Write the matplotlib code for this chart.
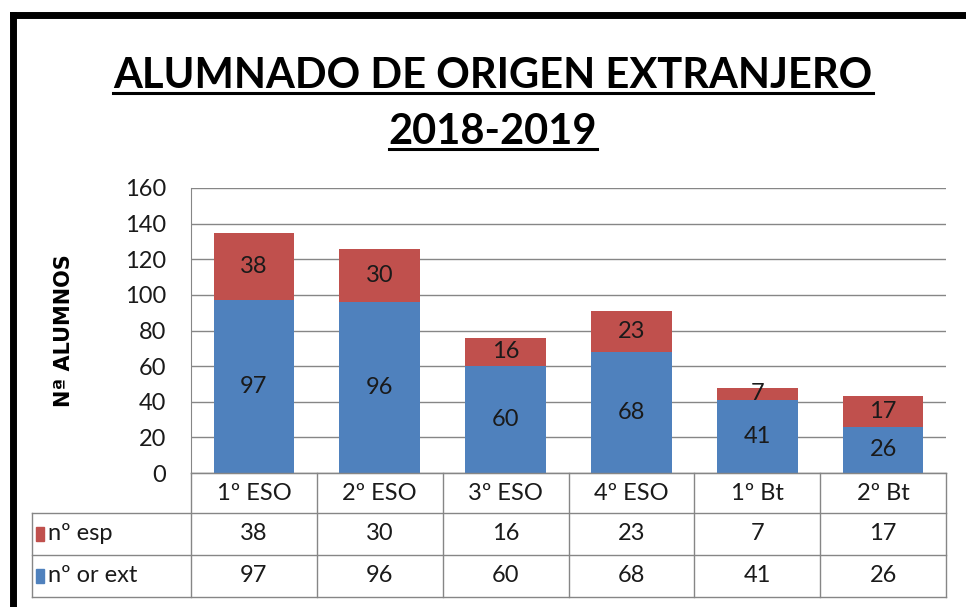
import numpy as np
import matplotlib.pyplot as plt
from matplotlib.lines import Line2D
from matplotlib.patches import Rectangle

categories = ['1º ESO', '2º ESO', '3º ESO', '4º ESO', '1º Bt', '2º Bt']
or_ext = [97, 96, 60, 68, 41, 26]
esp = [38, 30, 16, 23, 7, 17]
series_names = ['nº esp', 'nº or ext']

BLUE = '#4F81BD'
RED = '#C0504D'
GRID = '#868686'
TXT = '#1a1a1a'
W, H = 966, 607

plt.rcParams['font.family'] = ['Lato', 'DejaVu Sans']

fig = plt.figure(figsize=(W / 100, H / 100), dpi=100)


def fx(px):
    return px / W


def fy(py):
    return 1 - py / H


# plot area in pixels
L, R, T, B = 191, 946, 188, 473
ax = fig.add_axes([fx(L), fy(B), fx(R - L), fy(T) - fy(B)])

x = np.arange(len(categories))
ax.bar(x, or_ext, width=0.64, color=BLUE, zorder=3)
ax.bar(x, esp, width=0.64, bottom=or_ext, color=RED, zorder=3)
for i in range(len(categories)):
    ax.text(x[i], or_ext[i] / 2, str(or_ext[i]), ha='center', va='center',
            fontsize=17, color=TXT, zorder=4)
    ax.text(x[i], or_ext[i] + esp[i] / 2, str(esp[i]), ha='center', va='center',
            fontsize=17, color=TXT, zorder=4)

ax.set_xlim(-0.5, len(categories) - 0.5)
ax.set_ylim(0, 160)
ax.set_yticks(range(0, 161, 20))
ax.tick_params(axis='y', length=0, labelsize=17, pad=18, labelcolor=TXT)
ax.set_xticks([])
ax.grid(axis='y', color=GRID, lw=1, zorder=0)
for s in ['top', 'right']:
    ax.spines[s].set_visible(False)
ax.spines['left'].set_color(GRID)
ax.spines['bottom'].set_color(GRID)

ax.set_ylabel('Nª ALUMNOS', fontsize=15, fontweight='bold',
              family=['DejaVu Sans'])
ax.yaxis.set_label_coords(-0.155, 0.5)

# data table below the plot
TL = 32
rows = [473, 513, 555, 597]
colw = (R - L) / len(categories)
lines = []
lines.append(([L, R], [rows[0], rows[0]]))
for yy in rows[1:]:
    lines.append(([TL, R], [yy, yy]))
lines.append(([TL, TL], [rows[1], rows[3]]))
for k in range(len(categories) + 1):
    xx = L + k * colw
    lines.append(([xx, xx], [rows[0], rows[3]]))
for xs, ys in lines:
    fig.add_artist(Line2D([fx(v) for v in xs], [fy(v) for v in ys],
                          color=GRID, lw=1))

for k, c in enumerate(categories):
    cx = L + (k + 0.5) * colw
    fig.text(fx(cx), fy((rows[0] + rows[1]) / 2), c, ha='center', va='center',
             fontsize=17, color=TXT)
    fig.text(fx(cx), fy((rows[1] + rows[2]) / 2), str(esp[k]), ha='center',
             va='center', fontsize=17, color=TXT)
    fig.text(fx(cx), fy((rows[2] + rows[3]) / 2), str(or_ext[k]), ha='center',
             va='center', fontsize=17, color=TXT)

for r, (name, col) in enumerate(zip(series_names, [RED, BLUE])):
    cy = (rows[r + 1] + rows[r + 2]) / 2
    fig.add_artist(Rectangle((fx(36), fy(cy + 7)), fx(8), fy(cy - 7) - fy(cy + 7),
                             color=col))
    fig.text(fx(48), fy(cy), name, ha='left', va='center', fontsize=17,
             color=TXT)

# title
t1 = fig.text(fx(493), fy(88), 'ALUMNADO DE ORIGEN EXTRANJERO', ha='center',
              va='baseline', fontsize=30, fontweight='bold')
t2 = fig.text(fx(493), fy(144), '2018-2019', ha='center', va='baseline',
              fontsize=30, fontweight='bold')
fig.canvas.draw()
rend = fig.canvas.get_renderer()
for t, uy in [(t1, 93), (t2, 149)]:
    bb = t.get_window_extent(rend)
    fig.add_artist(Line2D([bb.x0 / W, bb.x1 / W], [fy(uy), fy(uy)],
                          color='black', lw=2.2))

# outer frame (thick black, left and top)
fig.add_artist(Line2D([fx(13), fx(13)], [fy(15), 0], color='black', lw=5))
fig.add_artist(Line2D([fx(13), 1], [fy(15), fy(15)], color='black', lw=5))

fig.savefig('out.png', dpi=100)
